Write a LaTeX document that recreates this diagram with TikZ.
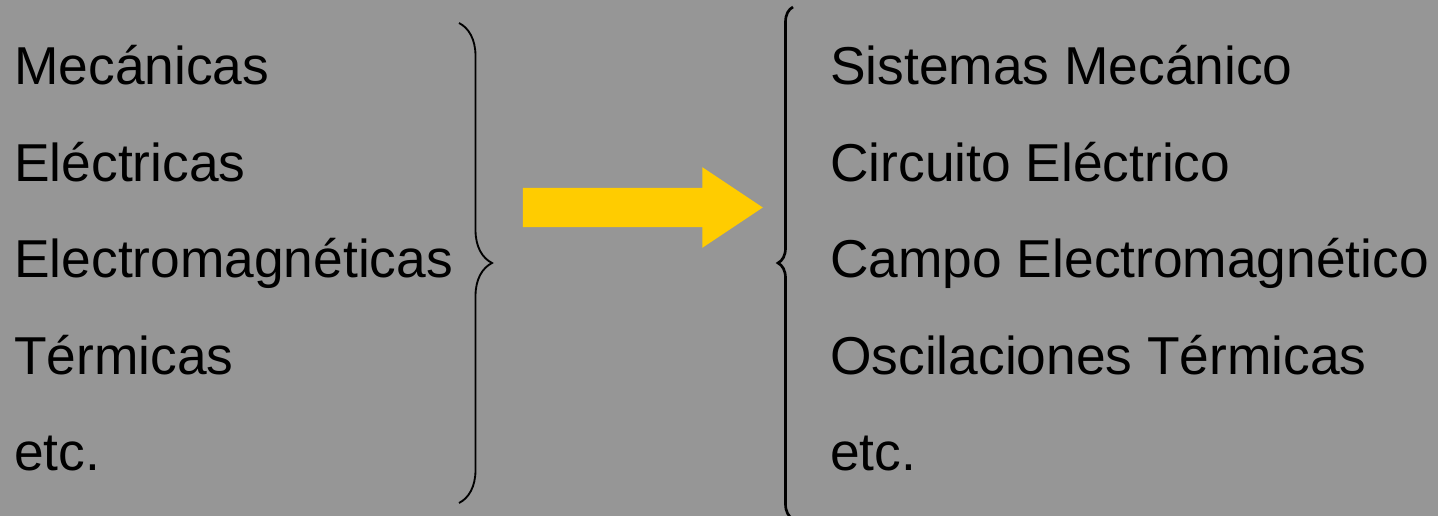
\documentclass[tikz,border=0pt]{standalone}
\usepackage{fontspec}
\setmainfont{Liberation Sans}
\usetikzlibrary{shapes.arrows, decorations.pathreplacing, positioning}
\definecolor{bggray}{RGB}{150,150,150}
\definecolor{arrowyellow}{RGB}{255,204,0}

\begin{document}
\begin{tikzpicture}[
    x=0.75pt, y=-0.75pt,
    node distance=34.5pt,
    item/.style={inner sep=0pt, text height=30pt, text depth=7.5pt,
                 font=\fontsize{40}{48}\selectfont},
    curly/.style={decorate, decoration={brace, amplitude=#1}},
    bigarrow/.style={single arrow, fill=arrowyellow, draw=none,
                     inner xsep=0pt, inner ysep=14.6pt, minimum height=180pt,
                     single arrow head extend=15.4pt, single arrow tip angle=67.4}
]
    % Background
    \fill[bggray] (0,0) rectangle (1438,516);
    \useasboundingbox (0,0) rectangle (1438,516);

    % Left list
    \node[item, anchor=base west] (mec) at (14,84.5) {Mecánicas};
    \node[item, below=of mec.south west, anchor=north west] (ele) {Eléctricas};
    \node[item, below=of ele.south west, anchor=north west] (emag) {Electromagnéticas};
    \node[item, below=of emag.south west, anchor=north west] (term) {Térmicas};
    \node[item, below=of term.south west, anchor=north west] (etcl) {etc.};

    % Right list
    \node[item, anchor=base west] (sis) at (830,84.5) {Sistemas Mecánico};
    \node[item, below=of sis.south west, anchor=north west] (circ) {Circuito Eléctrico};
    \node[item, below=of circ.south west, anchor=north west] (campo) {Campo Electromagnético};
    \node[item, below=of campo.south west, anchor=north west] (osc) {Oscilaciones Térmicas};
    \node[item, below=of osc.south west, anchor=north west] (etcr) {etc.};

    % Arrow
    \node[bigarrow] (flow) at (628,207.5) {};

    % Braces
    \coordinate (ltop) at (459,23);
    \coordinate (lbot) at (459,503);
    \coordinate (rbot) at (793,519);
    \coordinate (rtop) at (793,7);
    \draw[curly=24.75pt, line width=1.4pt] (ltop) -- (lbot);
    \draw[curly=11.25pt, line width=2pt] (rbot) -- (rtop);
\end{tikzpicture}
\end{document}
